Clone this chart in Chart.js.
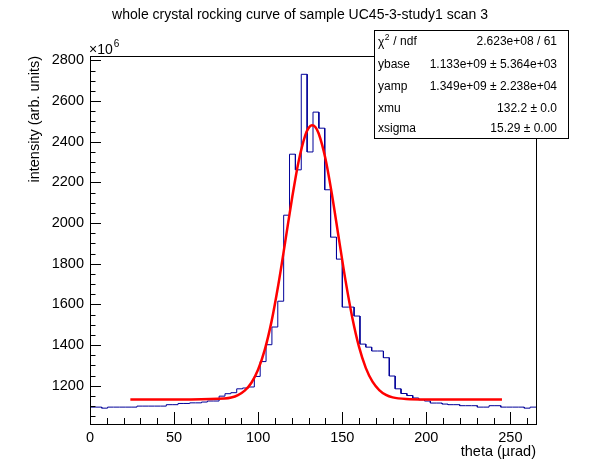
<!DOCTYPE html>
<html>
<head>
    <script src="https://cdn.jsdelivr.net/npm/chart.js@4.4.0/dist/chart.umd.min.js"></script>
    <style>
        body {
            margin: 0;
            background: #ffffff;
        }

        canvas {
            display: block;
        }
    </style>
    <title>whole crystal rocking curve</title>
</head>
<body>
    <canvas id="rocking" width="596" height="472"></canvas>

    <script>
        // histogram: 76 bins starting at theta = 0
        var thetaStart = 0;
        var binWidth = 3.49;
        var counts = [
            1095, 1095, 1090, 1095, 1095, 1095, 1095, 1095, 1100, 1100,
            1100, 1100, 1100, 1107, 1107, 1113, 1113, 1116, 1116, 1120,
            1125, 1125, 1149, 1161, 1166, 1185, 1189, 1194, 1246, 1319,
            1402, 1489, 1616, 2039, 2339, 2262, 2732, 2350, 2546, 2467,
            2164, 1931, 1823, 1587, 1587, 1543, 1405, 1390, 1371, 1371,
            1338, 1248, 1185, 1162, 1152, 1140, 1131, 1125, 1115, 1115,
            1110, 1107, 1107, 1102, 1102, 1102, 1095, 1095, 1102, 1102,
            1095, 1095, 1095, 1095, 1090, 1095
        ];

        // fit curve
        var fitTheta = [24, 60, 80, 84, 88, 92, 96, 100, 104, 108, 112, 116, 120, 124, 128, 130,
            132, 134, 136, 140, 144, 148, 152, 156, 160, 164, 168, 172, 176, 180, 188, 200, 245];
        var fitIntensity = [1133, 1133, 1137, 1142, 1154, 1176, 1215, 1280, 1379, 1518, 1697, 1903, 2114, 2301, 2432, 2468,
            2482, 2473, 2441, 2318, 2135, 1924, 1716, 1535, 1391, 1288, 1220, 1179, 1155, 1143, 1135, 1133, 1133];

        var xTickValues = [0, 50, 100, 150, 200, 250];
        var yTickValues = [1200, 1400, 1600, 1800, 2000, 2200, 2400, 2600, 2800];

        var statNames = ['ndf', 'ybase', 'yamp', 'xmu', 'xsigma'];
        var statValues = ['2.623e+08 / 61', '1.133e+09 \u00b1 5.364e+03', '1.349e+09 \u00b1 2.238e+04',
            '132.2 \u00b1 0.0', '15.29 \u00b1 0.00'];

        var FONT = "'Liberation Sans', Arial, Helvetica, sans-serif";

        var histPoints = [];
        for (var i = 0; i < counts.length; i++) {
            histPoints.push({ x: thetaStart + i * binWidth, y: counts[i] });
            histPoints.push({ x: thetaStart + (i + 1) * binWidth, y: counts[i] });
        }
        var thetaEnd = thetaStart + counts.length * binWidth;

        var fitPoints = [];
        for (var j = 0; j < fitTheta.length; j++) {
            fitPoints.push({ x: fitTheta[j], y: fitIntensity[j] });
        }

        // ROOT style frame, inside ticks, titles and stats box
        var rootDecor = {
            id: 'rootDecor',
            afterDraw: function (chart) {
                var ctx = chart.ctx;
                var a = chart.chartArea;
                var xs = chart.scales.x;
                var ys = chart.scales.y;

                ctx.save();
                ctx.strokeStyle = '#000000';
                ctx.lineWidth = 1;
                ctx.strokeRect(Math.round(a.left) + 0.5, Math.round(a.top) + 0.5,
                    Math.round(a.right - a.left), Math.round(a.bottom - a.top));

                ctx.beginPath();
                // x ticks, minor every 10
                for (var v = 0; v <= xs.max; v += 10) {
                    var px = Math.round(xs.getPixelForValue(v)) + 0.5;
                    var len = (v % 50 === 0) ? 12 : 6;
                    ctx.moveTo(px, a.bottom);
                    ctx.lineTo(px, a.bottom - len);
                }
                // y ticks, minor every 50
                for (var w = 1050; w <= ys.max; w += 50) {
                    var py = Math.round(ys.getPixelForValue(w)) + 0.5;
                    var len2 = (w % 200 === 0) ? 11 : 5.5;
                    ctx.moveTo(a.left, py);
                    ctx.lineTo(a.left + len2, py);
                }
                ctx.stroke();

                ctx.fillStyle = '#000000';
                ctx.font = '14px ' + FONT;
                ctx.textAlign = 'center';
                ctx.textBaseline = 'middle';
                ctx.fillText('whole crystal rocking curve of sample UC45-3-study1 scan 3', 300, 15);

                ctx.font = '14.5px ' + FONT;
                ctx.textAlign = 'right';
                ctx.fillText('theta (\u00b5rad)', a.right, 452);

                ctx.save();
                ctx.translate(35, a.top);
                ctx.rotate(-Math.PI / 2);
                ctx.textAlign = 'right';
                ctx.fillText('intensity (arb. units)', 0, 0);
                ctx.restore();

                // exponent label
                ctx.textAlign = 'left';
                ctx.textBaseline = 'alphabetic';
                ctx.font = '14px ' + FONT;
                ctx.fillText('\u00d710', 89, 54);
                var ew = ctx.measureText('\u00d710').width;
                ctx.font = '10px ' + FONT;
                ctx.fillText('6', 89 + ew + 1, 47);

                // stats box
                var bx = 374, by = 30, bw = 194, bh = 108;
                ctx.fillStyle = '#ffffff';
                ctx.fillRect(bx, by, bw, bh);
                ctx.strokeStyle = '#000000';
                ctx.strokeRect(bx + 0.5, by + 0.5, bw, bh);

                ctx.fillStyle = '#000000';
                ctx.textBaseline = 'middle';
                var rowY = [42, 65, 87, 109, 129];
                for (var k = 0; k < statNames.length; k++) {
                    ctx.font = '12px ' + FONT;
                    ctx.textAlign = 'left';
                    if (k === 0) {
                        ctx.fillText('\u03c7', 378, rowY[k] + 1);
                        var cw = ctx.measureText('\u03c7').width;
                        ctx.font = '8.5px ' + FONT;
                        ctx.fillText('2', 378 + cw + 0.5, rowY[k] - 4);
                        var sw = ctx.measureText('2').width;
                        ctx.font = '12px ' + FONT;
                        ctx.fillText(' / ' + statNames[k], 378 + cw + sw + 1, rowY[k]);
                    } else {
                        ctx.fillText(statNames[k], 378, rowY[k]);
                    }
                    ctx.textAlign = 'right';
                    ctx.fillText(statValues[k], 557, rowY[k]);
                }
                ctx.restore();
            }
        };

        var el = document.getElementById('rocking').getContext('2d');

        var rockingChart = new Chart(el, {
            type: 'line',
            data: {
                datasets: [{
                    label: 'histogram',
                    data: histPoints,
                    borderColor: '#000099',
                    borderWidth: 1,
                    pointRadius: 0,
                    tension: 0,
                    fill: false,
                    order: 2
                }, {
                    label: 'fit',
                    data: fitPoints,
                    borderColor: '#ff0000',
                    borderWidth: 2.5,
                    pointRadius: 0,
                    cubicInterpolationMode: 'monotone',
                    fill: false,
                    order: 1
                }]
            },
            options: {
                responsive: false,
                devicePixelRatio: 1,
                animation: false,
                layout: {
                    padding: { left: 0, right: 60, top: 56, bottom: 0 }
                },
                plugins: {
                    legend: { display: false },
                    title: { display: false },
                    tooltip: { enabled: false }
                },
                scales: {
                    x: {
                        type: 'linear',
                        min: thetaStart,
                        max: thetaEnd,
                        grid: { display: false, drawTicks: false },
                        border: { display: false },
                        ticks: {
                            color: '#000000',
                            font: { family: FONT, size: 14.5 },
                            padding: 5,
                            maxRotation: 0,
                            callback: function (value) { return String(value); }
                        },
                        afterBuildTicks: function (scale) {
                            scale.ticks = xTickValues.map(function (v) { return { value: v }; });
                        },
                        afterFit: function (scale) {
                            scale.height = 48;
                        }
                    },
                    y: {
                        type: 'linear',
                        min: 1012,
                        max: 2822,
                        grid: { display: false, drawTicks: false },
                        border: { display: false },
                        ticks: {
                            color: '#000000',
                            font: { family: FONT, size: 14.5 },
                            padding: 6,
                            callback: function (value) { return String(value); }
                        },
                        afterBuildTicks: function (scale) {
                            scale.ticks = yTickValues.map(function (v) { return { value: v }; });
                        },
                        afterFit: function (scale) {
                            scale.width = 90;
                        }
                    }
                }
            },
            plugins: [rootDecor]
        });
    </script>
</body>
</html>
